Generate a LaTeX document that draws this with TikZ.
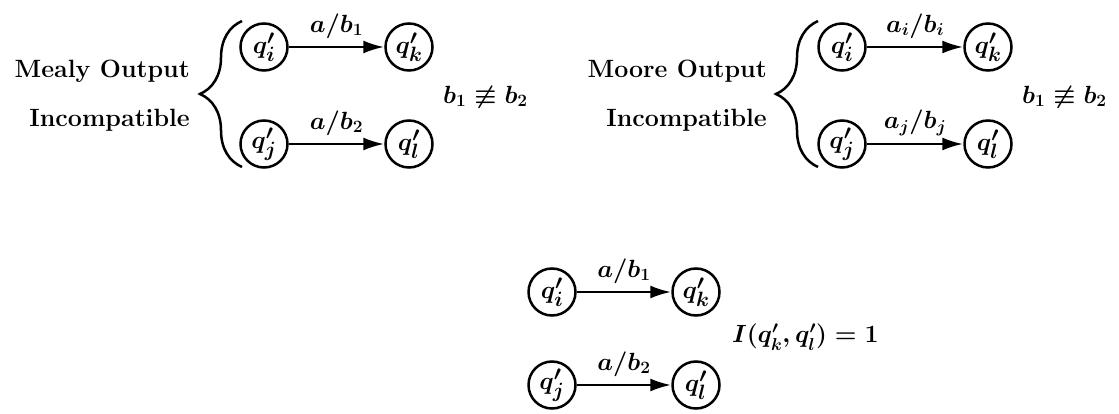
\documentclass[tikz,border=0pt]{standalone}
\usetikzlibrary{arrows.meta,decorations.pathreplacing}
\begin{document}
\begin{tikzpicture}[x=1pt,y=-1pt,
  font=\fontsize{25}{30}\selectfont\bfseries\boldmath,
  st/.style={circle,draw,line width=2.5pt,minimum size=47pt,inner sep=0pt,
    font=\fontsize{28}{32}\selectfont\bfseries\boldmath},
  tr/.style={-{Latex[length=21pt,width=13pt]},line width=2.5pt},
  lab/.style={above=4pt},
  rel/.style={anchor=west,inner sep=0pt,font=\fontsize{27}{32}\selectfont\bfseries\boldmath},
  br/.style={decorate,decoration={brace,amplitude=42pt},line width=2.5pt}]
\useasboundingbox (0,0) rectangle (1119,414);
% Mealy
\node[anchor=base east,inner sep=0pt] (mealy1) at (190,78) {Mealy Output};
\node[anchor=base east,inner sep=0pt] (mealy2) at (190,127) {Incompatible};
\coordinate (mb1) at (242,167);
\coordinate (mb2) at (242,21);
\draw[br] (mb1) -- (mb2);
\node[st] (mi) at (264,47) {$q'_i$};
\node[st] (mk) at (409,47) {$q'_k$};
\node[st] (mj) at (264,144) {$q'_j$};
\node[st] (ml) at (409,144) {$q'_l$};
\draw[tr] (mi) -- node[lab] (ml1) {$a/b_1$} (mk);
\draw[tr] (mj) -- node[lab] (ml2) {$a/b_2$} (ml);
\node[rel] (meq) at (443,97) {$b_1\not\equiv b_2$};
% Moore
\node[anchor=base east,inner sep=0pt] (moore1) at (767,78) {Moore Output};
\node[anchor=base east,inner sep=0pt] (moore2) at (767,127) {Incompatible};
\coordinate (ob1) at (818,167);
\coordinate (ob2) at (818,21);
\draw[br] (ob1) -- (ob2);
\node[st] (oi) at (842,47) {$q'_i$};
\node[st] (ok) at (988,47) {$q'_k$};
\node[st] (oj) at (842,144) {$q'_j$};
\node[st] (ol) at (988,144) {$q'_l$};
\draw[tr] (oi) -- node[lab] (ol1) {$a_i/b_i$} (ok);
\draw[tr] (oj) -- node[lab] (ol2) {$a_j/b_j$} (ol);
\node[rel] (oeq) at (1022,97) {$b_1\not\equiv b_2$};
% bottom
\node[st] (bi) at (552,292) {$q'_i$};
\node[st] (bk) at (696,292) {$q'_k$};
\node[st] (bj) at (552,385) {$q'_j$};
\node[st] (bl) at (696,385) {$q'_l$};
\draw[tr] (bi) -- node[lab] (bl1) {$a/b_1$} (bk);
\draw[tr] (bj) -- node[lab] (bl2) {$a/b_2$} (bl);
\node[anchor=west,inner sep=0pt] (beq) at (732,337) {$I(q'_k,q'_l)=1$};
\end{tikzpicture}
\end{document}
